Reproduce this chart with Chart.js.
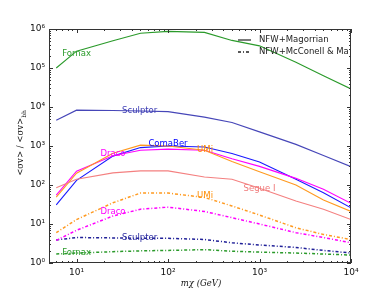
<!DOCTYPE html>
<html><head><meta charset="utf-8">
<script src="https://cdn.jsdelivr.net/npm/chart.js@4/dist/chart.umd.min.js"></script>
<style>html,body{margin:0;padding:0;background:#fff}</style>
</head><body>
<canvas id="c" width="390" height="293"></canvas>
<script>
// ---- data ----
const masses = [6, 10, 25, 50, 100, 250, 500, 1000, 2500, 5000, 10000];
// solid: NFW+Magorrian
const fornaxMag   = [1.0e5, 2.7e5, 5.0e5, 7.8e5, 8.7e5, 8.2e5, 5.1e5, 3.7e5, 1.4e5, 6.3e4, 2.9e4];
const sculptorMag = [4.6e3, 8.3e3, 8.1e3, 7.9e3, 7.6e3, 5.5e3, 4.0e3, 2.3e3, 1.1e3, 570, 295];
const comaBerMag  = [31, 132, 550, 910, 1000, 940, 640, 390, 140, 63, 26];
const dracoMag    = [55, 225, 560, 780, 830, 780, 470, 300, 148, 78, 34];
const umiMag      = [49, 200, 650, 1050, 1000, 780, 400, 220, 100, 41, 21];
const segueMag    = [85, 140, 205, 230, 230, 160, 140, 83, 39, 24, 13];
// dash-dot: NFW+McConell & Ma
const umiMcC      = [6, 13, 35, 62, 62, 48, 29, 17, 8, 5.4, 4];
const dracoMcC    = [3.8, 6.9, 16, 24, 27, 21, 14.5, 10, 6, 4.5, 3.3];
const sculptorMcC = [3.9, 4.5, 4.4, 4.3, 4.3, 4.0, 3.3, 2.9, 2.5, 2.1, 1.8];
const fornaxMcC   = [1.7, 1.8, 1.95, 2.05, 2.1, 2.2, 2.0, 1.9, 1.8, 1.7, 1.6];
// ticks
const xTickValues = [10, 100, 1000, 10000];
const yTickValues = [1, 10, 100, 1000, 10000, 100000, 1000000];
// in-plot labels: text, colour, mass, value
const seriesLabels = [
  ["Fornax", "#2a9a2a", 10, Math.pow(10, 5.36)],
  ["Sculptor", "#3c3cb4", 49, Math.pow(10, 3.90)],
  ["ComaBer", "#0000ff", 100, Math.pow(10, 3.05)],
  ["Draco", "#ff00ff", 25, Math.pow(10, 2.795)],
  ["UMi", "#ff8c00", 254, Math.pow(10, 2.90)],
  ["Segue I", "#f07878", 1000, Math.pow(10, 1.90)],
  ["UMi", "#ff8c00", 254, Math.pow(10, 1.72)],
  ["Draco", "#ff00ff", 25, Math.pow(10, 1.31)],
  ["Sculpter", "#2a2aa0", 49, Math.pow(10, 0.64)],
  ["Fornax", "#2a9a2a", 10, Math.pow(10, 0.256)]
];
const legendLabels = ["NFW+Magorrian", "NFW+McConell & Ma"];

const supMap = {"0":"⁰","1":"¹","2":"²","3":"³","4":"⁴","5":"⁵","6":"⁶","7":"⁷","8":"⁸","9":"⁹"};
function powLabel(v){ const e = Math.round(Math.log10(v)); return "10" + String(e).split("").map(c=>supMap[c]).join(""); }

const DASHDOT = [3, 2, 1, 2];
function ds(vals, color, dashed){
  return {
    data: masses.map((m,i)=>({x:m, y:vals[i]})),
    borderColor: color, backgroundColor: color,
    borderWidth: dashed ? 1.5 : 1.1,
    borderDash: dashed ? DASHDOT : [],
    pointRadius: 0, tension: 0, fill: false
  };
}

const datasets = [
  ds(fornaxMag, "#2a9a2a", false),
  ds(sculptorMag, "#4646b8", false),
  ds(segueMag, "#f48080", false),
  ds(umiMag, "#ff9a20", false),
  ds(dracoMag, "#ff00ff", false),
  ds(comaBerMag, "#1a1aff", false),
  ds(umiMcC, "#ff9a20", true),
  ds(dracoMcC, "#ff00ff", true),
  ds(sculptorMcC, "#202098", true),
  ds(fornaxMcC, "#2a9a2a", true)
];

function minorValues(min, max){
  const out = [];
  for (let d = Math.floor(Math.log10(min)); d <= Math.ceil(Math.log10(max)); d++){
    for (let k = 1; k <= 9; k++){
      const v = k * Math.pow(10, d);
      if (v >= min && v <= max) out.push({v, major: k === 1});
    }
  }
  return out;
}

const framePlugin = {
  id: "frame",
  afterDatasetsDraw(chart){
    const {ctx, chartArea: a, scales: {x, y}} = chart;
    ctx.save();
    ctx.strokeStyle = "#333"; ctx.lineWidth = 1;
    ctx.strokeRect(a.left + 0.5, a.top + 0.5, a.right - a.left - 1, a.bottom - a.top - 1);
    ctx.beginPath();
    minorValues(x.min, x.max).forEach(t => {
      const px = Math.round(x.getPixelForValue(t.v)) + 0.5, L = t.major ? 4 : 2;
      ctx.moveTo(px, a.bottom); ctx.lineTo(px, a.bottom - L);
      ctx.moveTo(px, a.top); ctx.lineTo(px, a.top + L);
    });
    minorValues(y.min, y.max).forEach(t => {
      const py = Math.round(y.getPixelForValue(t.v)) + 0.5, L = t.major ? 4 : 2;
      ctx.moveTo(a.left, py); ctx.lineTo(a.left + L, py);
      ctx.moveTo(a.right, py); ctx.lineTo(a.right - L, py);
    });
    ctx.stroke();

    // in-plot labels
    ctx.font = '8.5px "DejaVu Sans"';
    ctx.textAlign = "center"; ctx.textBaseline = "middle";
    seriesLabels.forEach(([t, c, m, v]) => {
      ctx.fillStyle = c;
      ctx.fillText(t, x.getPixelForValue(m), y.getPixelForValue(v));
    });

    // legend
    const lx0 = 238, lx1 = 251, tx = 259;
    const rows = [40, 52];
    ctx.textAlign = "left"; ctx.fillStyle = "#222"; ctx.strokeStyle = "#222";
    rows.forEach((ry, i) => {
      ctx.beginPath();
      ctx.lineWidth = i === 0 ? 1.2 : 1.5;
      ctx.setLineDash(i === 0 ? [] : DASHDOT);
      ctx.moveTo(lx0, ry); ctx.lineTo(lx1, ry); ctx.stroke();
      ctx.setLineDash([]);
      ctx.fillText(legendLabels[i], tx, ry);
    });

    // axis titles
    ctx.fillStyle = "#111";
    ctx.font = 'italic 8.5px "DejaVu Serif"';
    ctx.textAlign = "center"; ctx.textBaseline = "middle";
    const xc = (a.left + a.right) / 2;
    ctx.fillText("mχ (GeV)", xc + 1, 284);
    // y title rotated with subscript
    ctx.translate(21, 143);
    ctx.rotate(-Math.PI / 2);
    ctx.font = 'italic 8.5px "DejaVu Serif"';
    const main = "<σv> / <σv>";
    ctx.font = '8.5px "DejaVu Serif"';
    const wMain = ctx.measureText(main).width;
    ctx.font = '6px "DejaVu Serif"';
    const wSub = ctx.measureText("bh").width;
    const start = -(wMain + wSub) / 2;
    ctx.textAlign = "left";
    ctx.font = '8.5px "DejaVu Serif"';
    ctx.fillText(main, start, 0);
    ctx.font = '6px "DejaVu Serif"';
    ctx.fillText("bh", start + wMain, 3);
    ctx.restore();
  }
};

new Chart(document.getElementById("c"), {
  type: "line",
  data: { datasets },
  options: {
    responsive: false, animation: false, devicePixelRatio: 1,
    layout: { padding: { left: 0, right: 39, top: 29, bottom: 0 } },
    plugins: { legend: { display: false }, tooltip: { enabled: false } },
    scales: {
      x: {
        type: "logarithmic", min: 5, max: 10000,
        grid: { display: false, drawTicks: false },
        border: { display: false },
        afterBuildTicks: s => { s.ticks = xTickValues.map(v => ({ value: v, major: true })); },
        afterFit: s => { s.height = 30; },
        ticks: { callback: v => powLabel(v), font: { family: "DejaVu Sans", size: 9 }, color: "#111", padding: 4, maxRotation: 0, autoSkip: false }
      },
      y: {
        type: "logarithmic", min: 1, max: 1000000,
        grid: { display: false, drawTicks: false },
        border: { display: false },
        afterBuildTicks: s => { s.ticks = yTickValues.map(v => ({ value: v, major: true })); },
        afterFit: s => { s.width = 49; },
        ticks: { callback: v => powLabel(v), font: { family: "DejaVu Sans", size: 9 }, color: "#111", padding: 4, autoSkip: false }
      }
    }
  },
  plugins: [framePlugin]
});
</script>
</body></html>
